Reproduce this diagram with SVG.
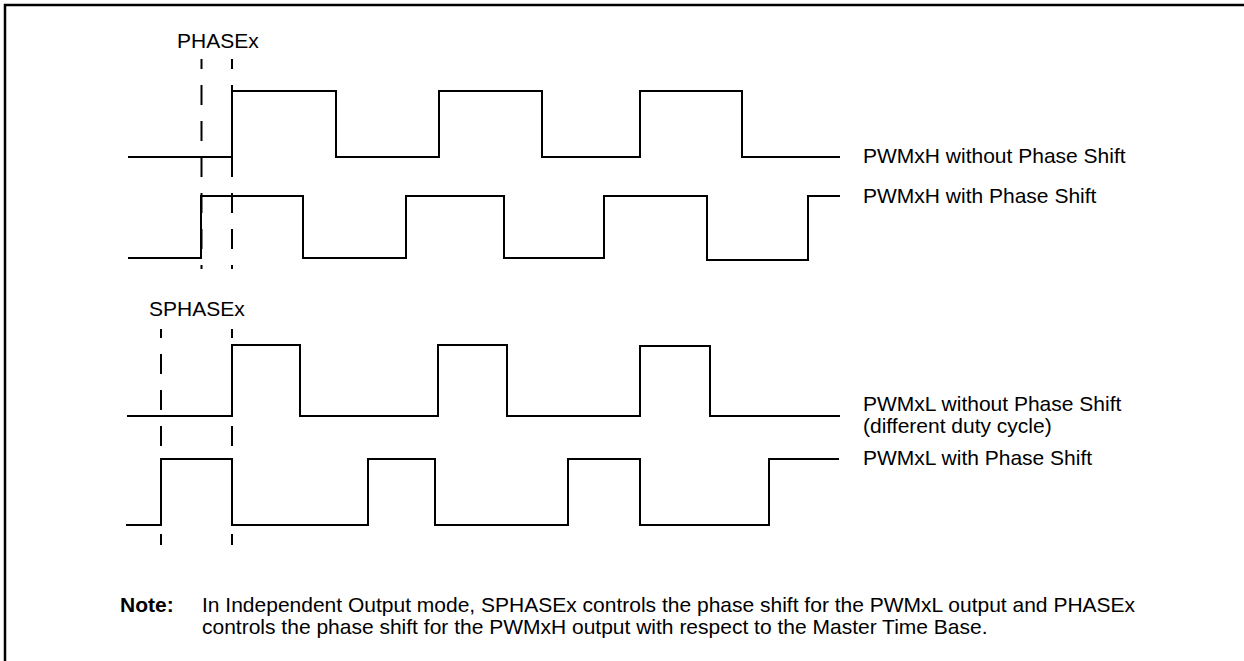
<svg xmlns="http://www.w3.org/2000/svg" width="1244" height="661" viewBox="0 0 1244 661">
<style>
.frame{fill:none;stroke:#000;stroke-width:2.5}
.wave{fill:none;stroke:#000;stroke-width:2;stroke-linejoin:miter}
.dash{fill:none;stroke:#000;stroke-width:2;stroke-dasharray:20 16}
.lbl{font-family:"Liberation Sans",Arial,sans-serif;font-size:21px;fill:#000}
.bold{font-weight:bold}
</style>
<rect width="1244" height="661" fill="#fff"/>
<path class="frame" d="M5,670 V5 H1250"/>
<g id="markers">
  <g id="phasex">
    <text class="lbl" x="177" y="48">PHASEx</text>
    <line class="dash" x1="201.5" y1="59" x2="201.5" y2="269" stroke-dashoffset="10"/>
    <line class="dash" x1="232" y1="59" x2="232" y2="269" stroke-dashoffset="10"/>
  </g>
  <g id="sphasex">
    <text class="lbl" x="149" y="316">SPHASEx</text>
    <line class="dash" x1="161" y1="329" x2="161" y2="545" stroke-dashoffset="11"/>
    <line class="dash" x1="232" y1="329" x2="232" y2="545" stroke-dashoffset="11"/>
  </g>
</g>
<g id="connectors">
  <path id="pwmxh-noshift" class="wave" d="M128,157 H232 V91 H336 V157 H439 V91 H542 V157 H640 V91 H742 V157 H840"/>
  <path id="pwmxh-shift" class="wave" d="M128,258 H201 V196 H303 V258 H406 V196 H504 V258 H604 V196 H707 V260 H808 V196 H840"/>
  <path id="pwmxl-noshift" class="wave" d="M127,416 H232 V345 H300 V416 H438 V345 H507 V416 H640 V346 H710 V416 H840"/>
  <path id="pwmxl-shift" class="wave" d="M126,525 H161 V459 H232 V525 H368 V459 H435 V525 H568 V459 H640 V525 H769 V459 H839"/>
</g>
<g id="labels">
  <text class="lbl" x="863" y="163">PWMxH without Phase Shift</text>
  <text class="lbl" x="863" y="203">PWMxH with Phase Shift</text>
  <text class="lbl" x="863" y="411">PWMxL without Phase Shift</text>
  <text class="lbl" x="863" y="433">(different duty cycle)</text>
  <text class="lbl" x="863" y="465">PWMxL with Phase Shift</text>
</g>
<g id="note">
  <text class="lbl bold" x="120" y="612">Note:</text>
  <text class="lbl" x="202" y="612">In Independent Output mode, SPHASEx controls the phase shift for the PWMxL output and PHASEx</text>
  <text class="lbl" x="202" y="634">controls the phase shift for the PWMxH output with respect to the Master Time Base.</text>
</g>
</svg>
